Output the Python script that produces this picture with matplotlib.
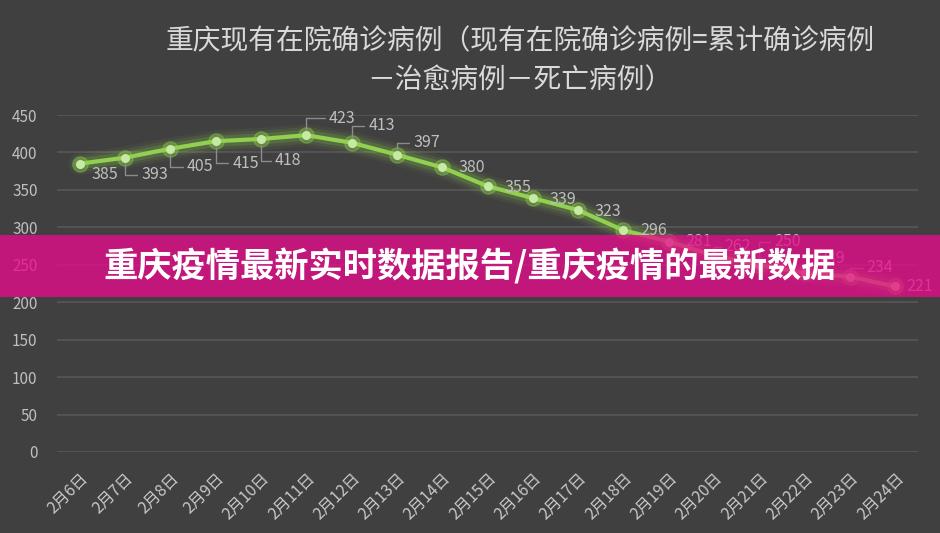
import matplotlib
matplotlib.use("Agg")
import matplotlib.pyplot as plt
from matplotlib.patches import Rectangle

plt.rcParams['font.family'] = ['Noto Sans CJK SC', 'DejaVu Sans']

dates = ["2月6日", "2月7日", "2月8日", "2月9日", "2月10日", "2月11日", "2月12日",
         "2月13日", "2月14日", "2月15日", "2月16日", "2月17日", "2月18日", "2月19日",
         "2月20日", "2月21日", "2月22日", "2月23日", "2月24日"]
values = [385, 393, 405, 415, 418, 423, 413, 397, 380, 355, 339, 323, 296, 281,
          262, 250, 239, 234, 221]
yticks = [0, 50, 100, 150, 200, 250, 300, 350, 400, 450]

title = "重庆现有在院确诊病例（现有在院确诊病例=累计确诊病例\n－治愈病例－死亡病例）"
banner = "重庆疫情最新实时数据报告/重庆疫情的最新数据"

# label offsets in pixels (dx, dy up) and whether a leader line is drawn
offsets = [(25, -11), (30, -17), (30, -18), (30, -22), (27, -22), (36, 17), (30, 17),
           (30, 12), (30, 0), (30, -1), (30, -1), (30, -1), (30, 0), (30, 0),
           (24, 9), (28, 23), (27, 15), (30, 9), (24, 0)]
leaders = [False, True, True, True, True, True, True, True, False, False, False,
           False, False, False, True, True, False, True, False]

BG = "#404040"
fig = plt.figure(figsize=(9.4, 5.33), dpi=100, facecolor=BG)
ax = fig.add_axes([57/940, 1-452/533, (918-57)/940, (452-115)/533], facecolor=BG)

x = list(range(len(values)))
ax.set_xlim(-0.5, len(values) - 0.5)
ax.set_ylim(0, 450)
ax.set_yticks(yticks)
ax.set_xticks(x)
ax.set_xticklabels(dates, rotation=45, ha='right', va='top', rotation_mode='anchor')
ax.tick_params(axis='both', length=0, colors='#BFBFBF', labelsize=11)
ax.tick_params(axis='x', pad=13, labelsize=11.5)
ax.tick_params(axis='y', pad=14)
for lab in ax.get_xticklabels():
    lab.set_color('#C8C8C8')
for s in ax.spines.values():
    s.set_visible(False)
ax.grid(axis='y', color='#585858', linewidth=1.2)
ax.set_axisbelow(True)

# glow
for lw, a in [(16, 0.06), (12, 0.10), (8, 0.18)]:
    ax.plot(x, values, color='#92D050', linewidth=lw, alpha=a, solid_capstyle='round',
            solid_joinstyle='round', zorder=2)
ax.plot(x, values, color='#92D050', linewidth=3, zorder=3, solid_joinstyle='round')
ax.plot(x, values, linestyle='none', marker='o', markersize=11, color='#92D050',
        alpha=0.35, zorder=3)
ax.plot(x, values, linestyle='none', marker='o', markersize=6.5, color='#C6E9A4',
        markeredgewidth=0, zorder=4)

for xi, v, (dx, dy), ld in zip(x, values, offsets, leaders):
    kw = {}
    if ld:
        kw['arrowprops'] = dict(arrowstyle='-', color='#8C8C8C', lw=1,
                                connectionstyle='angle,angleA=0,angleB=90,rad=0',
                                shrinkA=1, shrinkB=4)
    ax.annotate(str(v), xy=(xi, v), xytext=(dx, dy), textcoords='offset pixels',
                ha='center', va='center', color='#BFBFBF', fontsize=11.5, zorder=5, **kw)

fig.text(0.553, 1-61/533, title, ha='center', va='center', color='#D9D9D9',
         fontsize=20, linespacing=1.4)

rect = Rectangle((0, 1-297/533), 1, 62/533, transform=fig.transFigure,
                 facecolor='#E80C8B', alpha=0.78, edgecolor='none', zorder=10)
fig.add_artist(rect)
fig.text(470/940, 1-266/533, banner, ha='center', va='center', color='white',
         fontsize=24.7, fontweight='heavy', zorder=11)

fig.savefig("out.png", dpi=100, facecolor=BG)
